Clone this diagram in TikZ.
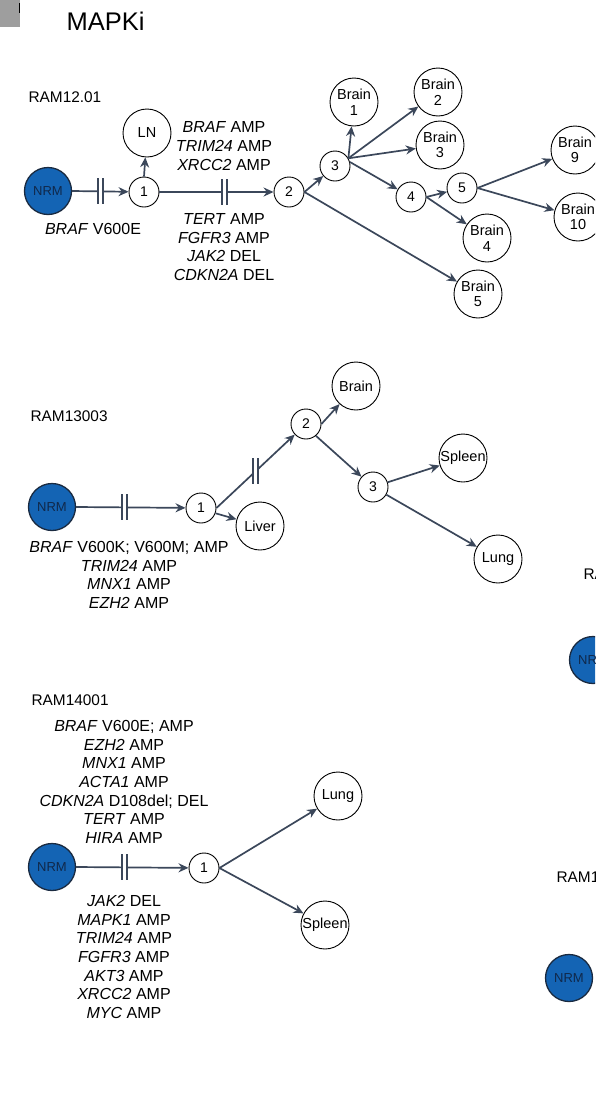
\documentclass[tikz,border=0pt]{standalone}
\usepackage{fontspec}
\setmainfont{Liberation Sans}
\usetikzlibrary{arrows.meta}
\definecolor{edgec}{HTML}{3B475A}
\definecolor{nrmblue}{HTML}{1464B4}
\definecolor{nrmline}{HTML}{1A2A40}
\definecolor{nrmtext}{HTML}{10284A}
\tikzset{
 nrm/.style={circle, draw=nrmline, line width=1.3pt, fill=nrmblue, minimum size=47pt, inner sep=0pt, font=\fontsize{13}{13}\selectfont, text=nrmtext},
 site/.style={circle, draw=black, line width=0.9pt, fill=white, minimum size=48pt, inner sep=0pt, align=center, font=\fontsize{14.5}{15.5}\selectfont},
 clone/.style={circle, draw=black, line width=0.9pt, fill=white, minimum size=30pt, inner sep=0pt, font=\fontsize{14}{14}\selectfont},
 edge/.style={draw=edgec, line width=1.7pt, -{Stealth[length=10pt,width=9pt]}},
 gene/.style={align=center, font=\fontsize{16}{18.6}\selectfont},
 tag/.style={anchor=base west, font=\fontsize{15.4}{16}\selectfont},
}
\newcommand\brk[1]{%
 \fill[white] (#1) ++(-2.5,-3) rectangle ++(5,6);
 \draw[edgec, line width=1.6pt] (#1) ++(-2.5,-13) -- ++(0,26) (#1) ++(2.5,-13) -- ++(0,26);}
\begin{document}
\begin{tikzpicture}[x=1pt,y=-1pt]
\useasboundingbox (0,0) rectangle (595,1111);
\clip (0,0) rectangle (595,1111);
% header
\fill[black!38] (0,0) rectangle (20,27);
\draw[black, line width=1.5pt] (19.5,3) -- (19.5,13);
\node[anchor=base west, font=\fontsize{25.5}{26}\selectfont] (title) at (63,30) {MAPKi};

% ---------------- RAM12.01
\node[tag] (tagA) at (25,102) {RAM12.01};
\node[nrm] (nrmA) at (48,191) {NRM};
\node[clone] (a1) at (144,192) {1};
\node[site] (aLN) at (147,133) {LN};
\node[clone] (a2) at (289,192) {2};
\node[clone] (a3) at (335,166) {3};
\node[site] (aB1) at (354,102) {Brain\\1};
\node[site] (aB2) at (438,92) {Brain\\2};
\node[site] (aB3) at (440,145) {Brain\\3};
\node[clone] (a4) at (411,197) {4};
\node[clone] (a5) at (462,188) {5};
\node[site] (aB4) at (487,238) {Brain\\4};
\node[site] (aB5) at (478,294) {Brain\\5};
\node[site] (aB9) at (575,150) {Brain\\9};
\node[site] (aB10) at (578,217) {Brain\\10};
\node[gene] (gA1) at (93,229) {\textit{BRAF} V600E};
\node[gene] (gA2) at (224,146) {\textit{BRAF} AMP\\\textit{TRIM24} AMP\\\textit{XRCC2} AMP};
\node[gene] (gA3) at (224,247) {\textit{TERT} AMP\\\textit{FGFR3} AMP\\\textit{JAK2} DEL\\\textit{CDKN2A} DEL};
\draw[edge] (nrmA.east) -- coordinate[pos=0.5] (kA1) (a1);
\draw[edge] (a1.north) -- (aLN);
\draw[edge] (a1.east) -- coordinate[pos=0.57] (kA2) (a2);
\draw[edge] (a2.east) -- (a3);
\draw[edge] (a2.east) -- (aB5);
\draw[edge] (a3.30) -- (aB1);
\draw[edge] (a3.30) -- (aB2);
\draw[edge] (a3.30) -- (aB3);
\draw[edge] (a3.15) -- (a4);
\draw[edge] (a4.east) -- (a5);
\draw[edge] (a4.east) -- (aB4);
\draw[edge] (a5.east) -- (aB9);
\draw[edge] (a5.east) -- (aB10);
\brk{kA1}
\brk{kA2}

% ---------------- RAM13003
\node[tag] (tagB) at (27,421) {RAM13003};
\node[nrm] (nrmB) at (52,507) {NRM};
\node[clone] (b1) at (201,508) {1};
\node[site] (bLiver) at (260,526) {Liver};
\node[clone] (b2) at (306,424) {2};
\node[site] (bBrain) at (356,386) {Brain};
\node[clone] (b3) at (373,487) {3};
\node[site] (bSpleen) at (463,458) {Spleen};
\node[site] (bLung) at (498,559) {Lung};
\node[gene] (gB1) at (129,575) {\textit{BRAF} V600K; V600M; AMP\\\textit{TRIM24} AMP\\\textit{MNX1} AMP\\\textit{EZH2} AMP};
\draw[edge] (nrmB.east) -- coordinate[pos=0.44] (kB1) (b1);
\draw[edge] (b1.east) -- coordinate[pos=0.5] (kB2) (b2);
\draw[edge] (b1.-20) -- (bLiver);
\draw[edge] (b2.east) -- (bBrain);
\draw[edge] (b2.-50) -- (b3);
\draw[edge] (b3) -- (bSpleen);
\draw[edge] (b3) -- (bLung);
\brk{kB1}
\brk{kB2}

% ---------------- RAM14001
\node[tag] (tagC) at (28,705) {RAM14001};
\node[nrm] (nrmC) at (52,867) {NRM};
\node[clone] (c1) at (204,868) {1};
\node[site] (cLung) at (338,796) {Lung};
\node[site] (cSpleen) at (325,925) {Spleen};
\node[gene] (gC1) at (124,782) {\textit{BRAF} V600E; AMP\\\textit{EZH2} AMP\\\textit{MNX1} AMP\\\textit{ACTA1} AMP\\\textit{CDKN2A} D108del; DEL\\\textit{TERT} AMP\\\textit{HIRA} AMP};
\node[gene] (gC2) at (124,957) {\textit{JAK2} DEL\\\textit{MAPK1} AMP\\\textit{TRIM24} AMP\\\textit{FGFR3} AMP\\\textit{AKT3} AMP\\\textit{XRCC2} AMP\\\textit{MYC} AMP};
\draw[edge] (nrmC.east) -- coordinate[pos=0.43] (kC1) (c1);
\draw[edge] (c1.east) -- (cLung);
\draw[edge] (c1.east) -- (cSpleen);
\brk{kC1}

% ---------------- clipped panels at the right edge
\node[tag] (tagD) at (580,579) {RA};
\node[nrm] (nrmD) at (593,660) {NRM};
\node[tag] (tagE) at (553,882) {RAM1};
\node[nrm] (nrmE) at (569,978) {NRM};
\end{tikzpicture}
\end{document}
